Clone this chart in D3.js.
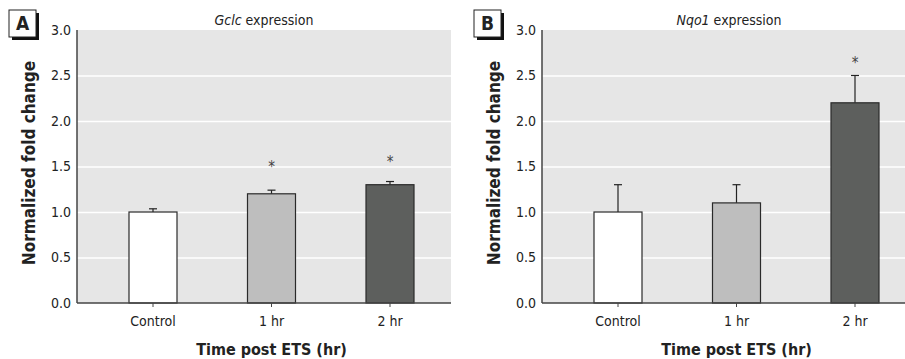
<!DOCTYPE html>
<html>
<head>
<meta charset="utf-8">
<script src="https://cdn.jsdelivr.net/npm/d3@7"></script>
<style>
  body { margin: 0; background: #fff; }
  svg text { font-family: "Liberation Sans Narrow", "DejaVu Sans Condensed", "Roboto Condensed", sans-serif; fill: #222; }
  .grid line { stroke: #fff; stroke-width: 1.5; }
  .grid path { display: none; }
</style>
</head>
<body>
<svg id="chart" width="905" height="359"></svg>
<script>
const categories = ["Control", "1 hr", "2 hr"]
const yTicks = [0, 0.5, 1.0, 1.5, 2.0, 2.5, 3.0]
const barColors = ["#ffffff", "#bebebe", "#5d5f5d"]

const gclcMeans = [1.0, 1.2, 1.3]
const gclcErrors = [0.035, 0.04, 0.035]
const gclcStars = [null, 1.52, 1.57]   // y level of the * mark, null = none

const nqo1Means = [1.0, 1.1, 2.2]
const nqo1Errors = [0.3, 0.2, 0.3]
const nqo1Stars = [null, null, 2.66]

const panels = [
  { letter: "A", gene: "Gclc", means: gclcMeans, errors: gclcErrors, stars: gclcStars, left: 77 },
  { letter: "B", gene: "Nqo1", means: nqo1Means, errors: nqo1Errors, stars: nqo1Stars, left: 542 }
]

const plotW = 374
const plotTop = 30
const plotBottom = 303

const svg = d3.select("#chart")

function drawPanel(p) {
  const g = svg.append("g").attr("transform", "translate(" + p.left + ",0)")

  const x = d3.scalePoint()
    .domain(categories)
    .range([76, 313])

  const y = d3.scaleLinear()
    .domain([0, 3])
    .range([plotBottom, plotTop])

  // background
  g.append("rect")
    .attr("x", 0).attr("y", plotTop)
    .attr("width", plotW).attr("height", plotBottom - plotTop)
    .attr("fill", "#e6e6e6")

  // gridlines
  g.append("g")
    .attr("class", "grid")
    .call(d3.axisLeft(y).tickValues(yTicks.slice(1, -1)).tickSize(-plotW).tickFormat(""))

  // tick labels on y
  g.selectAll(".ylab")
    .data(yTicks)
    .join("text")
    .attr("x", -6)
    .attr("y", d => y(d))
    .attr("dy", "0.35em")
    .attr("text-anchor", "end")
    .style("font-size", "14px")
    .text(d => d.toFixed(1))

  const bw = 48

  // error bars (drawn under bar so the top edge covers)
  p.means.forEach((m, i) => {
    const cx = x(categories[i])
    g.append("line")
      .attr("x1", cx).attr("x2", cx)
      .attr("y1", y(m)).attr("y2", y(m + p.errors[i]))
      .attr("stroke", "#222").attr("stroke-width", 1.2)
    g.append("line")
      .attr("x1", cx - 4).attr("x2", cx + 4)
      .attr("y1", y(m + p.errors[i])).attr("y2", y(m + p.errors[i]))
      .attr("stroke", "#222").attr("stroke-width", 1.2)
    if (p.stars[i] != null) {
      g.append("text")
        .attr("x", cx)
        .attr("y", y(p.stars[i]) + 7)
        .attr("text-anchor", "middle")
        .style("font-size", "15px")
        .style("fill", "#444")
        .text("*")
    }
  })

  g.selectAll(".bar")
    .data(p.means)
    .join("rect")
    .attr("x", (d, i) => x(categories[i]) - bw / 2)
    .attr("y", d => y(d))
    .attr("width", bw)
    .attr("height", d => plotBottom - y(d))
    .attr("fill", (d, i) => barColors[i])
    .attr("stroke", "#2a2a2a")
    .attr("stroke-width", 1.2)

  // axes lines
  g.append("line")
    .attr("x1", 0).attr("x2", 0).attr("y1", plotTop).attr("y2", plotBottom)
    .attr("stroke", "#444").attr("stroke-width", 1.5)
  g.append("line")
    .attr("x1", 0).attr("x2", plotW).attr("y1", plotBottom).attr("y2", plotBottom)
    .attr("stroke", "#444").attr("stroke-width", 1.5)

  // x ticks + labels
  categories.forEach(c => {
    g.append("line")
      .attr("x1", x(c)).attr("x2", x(c))
      .attr("y1", plotBottom).attr("y2", plotBottom + 4)
      .attr("stroke", "#444").attr("stroke-width", 1)
    g.append("text")
      .attr("x", x(c)).attr("y", plotBottom + 23)
      .attr("text-anchor", "middle")
      .style("font-size", "14px")
      .text(c)
  })

  // x title
  g.append("text")
    .attr("x", x(categories[1])).attr("y", 355)
    .attr("text-anchor", "middle")
    .style("font-size", "16px").style("font-weight", "bold")
    .text("Time post ETS (hr)")

  // y title
  g.append("text")
    .attr("transform", "translate(" + (-42) + "," + 163 + ") rotate(-90)")
    .attr("text-anchor", "middle")
    .style("font-size", "17px").style("font-weight", "bold")
    .text("Normalized fold change")

  // title
  const t = g.append("text")
    .attr("x", plotW / 2).attr("y", 25)
    .attr("text-anchor", "middle")
    .style("font-size", "14px")
  t.append("tspan").style("font-style", "italic").text(p.gene)
  t.append("tspan").text(" expression")

  // panel letter box
  const bx = -68, by = 10
  g.append("rect")
    .attr("x", bx + 3).attr("y", by + 3).attr("width", 27).attr("height", 27)
    .attr("fill", "#111")
  g.append("rect")
    .attr("x", bx).attr("y", by).attr("width", 27).attr("height", 27)
    .attr("fill", "#fff").attr("stroke", "#222").attr("stroke-width", 1)
  g.append("text")
    .attr("x", bx + 13.5).attr("y", by + 20)
    .attr("text-anchor", "middle")
    .style("font-size", "19px").style("font-weight", "bold")
    .text(p.letter)
}

panels.forEach(drawPanel)
</script>
</body>
</html>
